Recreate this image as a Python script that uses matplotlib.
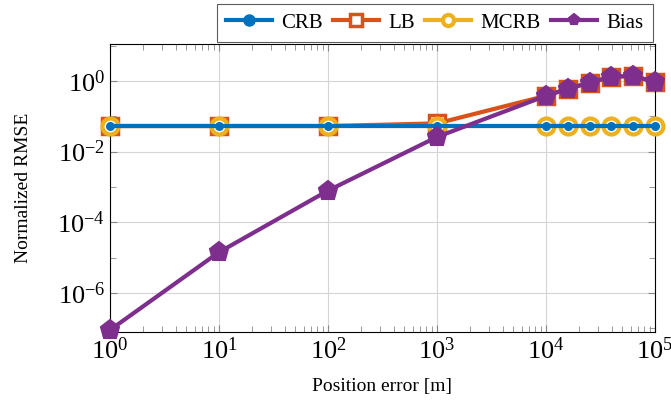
import matplotlib
matplotlib.use("Agg")
import matplotlib.pyplot as plt
from matplotlib.ticker import LogLocator, NullFormatter

plt.rcParams['font.family'] = ['Liberation Serif', 'DejaVu Serif']
plt.rcParams['mathtext.fontset'] = 'cm'

# position error [m]
pos_err = [1, 10, 100, 1000, 1e4, 1.58e4, 2.51e4, 3.98e4, 6.31e4, 1e5]
crb = [0.053, 0.053, 0.053, 0.053, 0.053, 0.053, 0.053, 0.053, 0.053, 0.053]
lb = [0.053, 0.053, 0.053, 0.063, 0.38, 0.60, 0.89, 1.32, 1.38, 0.94]
mcrb = [0.053, 0.053, 0.053, 0.053, 0.053, 0.053, 0.053, 0.053, 0.053, 0.053]
bias = [9e-8, 1.43e-5, 7.9e-4, 0.026, 0.38, 0.60, 0.89, 1.32, 1.38, 0.94]

c_crb = '#0072BD'
c_lb = '#D95319'
c_mcrb = '#EDB120'
c_bias = '#7E2F8E'

fig = plt.figure(figsize=(6.71, 4.09), dpi=100)
ax = fig.add_axes([110 / 671, 1 - 332 / 409, 545 / 671, 288 / 409])

ax.plot(pos_err, crb, color=c_crb, lw=3, marker='o', ms=5.5, mfc=c_crb, mec=c_crb,
        label='CRB', zorder=4, clip_on=False)
ax.plot(pos_err, lb, color=c_lb, lw=3, marker='s', ms=12, mfc='white', mec=c_lb,
        mew=2.5, label='LB', zorder=2, clip_on=False)
ax.plot(pos_err, mcrb, color=c_mcrb, lw=3, marker='o', ms=11.5, mfc='white', mec=c_mcrb,
        mew=3, label='MCRB', zorder=3, clip_on=False)
ax.plot(pos_err, bias, color=c_bias, lw=3, marker='p', ms=14, mfc=c_bias, mec=c_bias,
        mew=1.5, label='Bias', zorder=5, clip_on=False)

ax.set_xscale('log')
ax.set_yscale('log')
ax.set_xlim(1, 1e5)
ax.set_ylim(7.9e-8, 11.1)

ax.yaxis.set_major_locator(LogLocator(base=100, numticks=10))
ax.yaxis.set_minor_locator(LogLocator(base=10, numticks=20))
ax.yaxis.set_minor_formatter(NullFormatter())
ax.xaxis.set_minor_locator(LogLocator(base=10, subs=range(2, 10), numticks=20))
ax.xaxis.set_minor_formatter(NullFormatter())

ax.grid(True, which='major', color='#d5d5d5', lw=0.8)
ax.tick_params(which='both', direction='in', top=True, right=True, labelsize=19)
ax.tick_params(which='major', length=5, color='#888888')
ax.tick_params(which='minor', length=4, color='#888888')
ax.tick_params(axis='x', pad=4)
ax.set_axisbelow(True)

ax.set_xlabel('Position error [m]', fontsize=14, labelpad=10)
ax.set_ylabel('Normalized RMSE', fontsize=14, labelpad=18)

leg = ax.legend(loc='lower right', ncol=4, fontsize=15, frameon=True, fancybox=False,
                edgecolor='#333333', borderpad=0.45, handlelength=2.2,
                columnspacing=0.5, handletextpad=0.45, borderaxespad=0)
leg.set_bbox_to_anchor((653 / 671, 1 - 42 / 409), transform=fig.transFigure)
leg.get_frame().set_linewidth(0.8)
for h in leg.legend_handles:
    h.set_markersize(8)

fig.savefig('out.png', dpi=100)
